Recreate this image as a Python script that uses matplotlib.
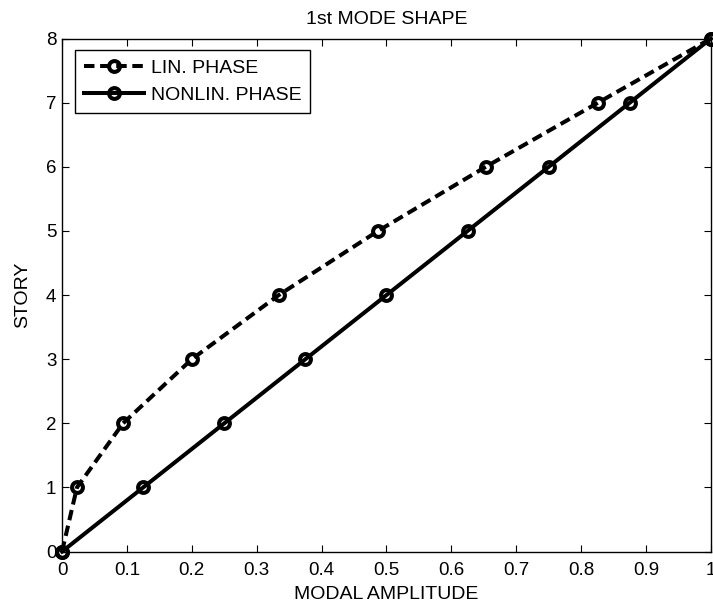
import matplotlib
matplotlib.use("Agg")
import matplotlib.pyplot as plt

# Story levels and first-mode amplitudes
stories = [0, 1, 2, 3, 4, 5, 6, 7, 8]
lin_phase = [0.0, 0.023, 0.094, 0.200, 0.334, 0.487, 0.653, 0.826, 1.0]
nonlin_phase = [0.0, 0.125, 0.25, 0.375, 0.5, 0.625, 0.75, 0.875, 1.0]

x_ticks = [0, 0.1, 0.2, 0.3, 0.4, 0.5, 0.6, 0.7, 0.8, 0.9, 1]
x_tick_labels = ["0", "0.1", "0.2", "0.3", "0.4", "0.5", "0.6", "0.7", "0.8", "0.9", "1"]
y_ticks = [0, 1, 2, 3, 4, 5, 6, 7, 8]

plt.rcParams["font.family"] = ["Liberation Sans", "DejaVu Sans"]
plt.rcParams["font.size"] = 13

fig = plt.figure(figsize=(7.13, 6.07), dpi=100)
ax = fig.add_axes([0.087, 0.0913, 0.910, 0.8451])

common = dict(color="black", linewidth=2.9, marker="o", markersize=7.8,
              markerfacecolor="none", markeredgecolor="black",
              markeredgewidth=2.9, clip_on=False)
ax.plot(lin_phase, stories, linestyle=(0, (2.6, 1.4)), label="LIN. PHASE", **common)
ax.plot(nonlin_phase, stories, linestyle="-", label="NONLIN. PHASE", **common)

ax.set_xlim(0, 1)
ax.set_ylim(0, 8)
ax.set_xticks(x_ticks)
ax.set_xticklabels(x_tick_labels)
ax.set_yticks(y_ticks)
ax.tick_params(direction="in", length=5, width=0.8, top=True, right=True,
               labelsize=13.5)
ax.tick_params(axis="x", pad=7.5)
ax.tick_params(axis="y", pad=4)
for s in ax.spines.values():
    s.set_linewidth(1.0)

ax.set_title("1st MODE SHAPE", fontsize=14, pad=10.5)
ax.set_xlabel("MODAL AMPLITUDE", fontsize=14, labelpad=5)
ax.set_ylabel("STORY", fontsize=14, labelpad=10.5)

leg = ax.legend(loc="upper left", bbox_to_anchor=(0.02, 0.977), numpoints=1,
                handlelength=3.1, handletextpad=0.35, labelspacing=0.5,
                borderpad=0.45, fancybox=False, fontsize=14, framealpha=1,
                borderaxespad=0)
leg.get_frame().set_edgecolor("black")
leg.get_frame().set_linewidth(1.0)

fig.savefig("out.png", dpi=100)
